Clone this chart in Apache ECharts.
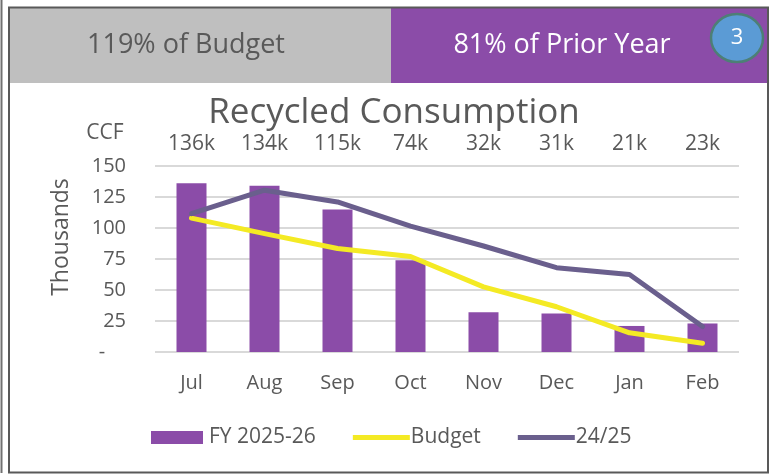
<!DOCTYPE html>
<html>
<head>
<meta charset="utf-8">
<script src="https://cdn.jsdelivr.net/npm/echarts@6/dist/echarts.min.js"></script>
<style>
  html, body { margin: 0; padding: 0; background: #fff; }
  #chart { width: 776px; height: 475px; }
</style>
</head>
<body>
<div id="chart"></div>
<script>
// chart data
const months = ["Jul", "Aug", "Sep", "Oct", "Nov", "Dec", "Jan", "Feb"];
const fy2526 = [136, 134, 115, 74, 32, 31, 21, 23];
const budget = [108, 95.5, 83.5, 77, 52.5, 36.5, 15.5, 7];
const prior = [111.5, 130.5, 121, 101.5, 85.5, 68, 62.5, 20.5];
const yTicks = [0, 25, 50, 75, 100, 125, 150];

const budgetText = "119% of Budget";
const priorText = "81% of Prior Year";

const font = "Open Sans";
const textColor = "#595959";
// legend icons, anchored by zero-length moves so they keep their size in the box
const barIcon = "path://M0,0L52,0L52,13L0,13ZM57,0L57,0";
const lineIcon = "path://M0,0L0,0M0,4L57,4L57,9L0,9ZM0,13L0,13";

const chart = echarts.init(document.getElementById("chart"), null, { renderer: "canvas" });

chart.setOption({
  backgroundColor: "#fff",
  animation: false,
  textStyle: { fontFamily: font },
  title: {
    text: "Recycled Consumption",
    left: 389,
    top: 91,
    textAlign: "center",
    textStyle: { fontFamily: font, fontSize: 35, fontWeight: "normal", color: textColor }
  },
  graphic: [
    // header band
    { type: "rect", shape: { x: 9, y: 8, width: 382, height: 75 }, style: { fill: "#bfbfbf" }, silent: true },
    { type: "rect", shape: { x: 391, y: 8, width: 377, height: 75 }, style: { fill: "#8b4ca8" }, silent: true },
    {
      type: "text", x: 186, y: 45,
      style: { text: budgetText, textAlign: "center", textVerticalAlign: "middle",
        font: "27px '" + font + "'", fill: textColor }
    },
    {
      type: "text", x: 562, y: 45,
      style: { text: priorText, textAlign: "center", textVerticalAlign: "middle",
        font: "27px '" + font + "'", fill: "#fff" }
    },
    {
      type: "ellipse", shape: { cx: 737, cy: 38, rx: 26, ry: 24 },
      style: { fill: "#5b9bd5", stroke: "#4d7f76", lineWidth: 2.5 }, silent: true
    },
    {
      type: "text", x: 737, y: 38,
      style: { text: "3", textAlign: "center", textVerticalAlign: "middle",
        font: "22px '" + font + "'", fill: "#fff" }
    },
    // outer frame
    { type: "rect", shape: { x: 9, y: 7.5, width: 759, height: 465 },
      style: { fill: null, stroke: "#595959", lineWidth: 2 }, silent: true, z: 100 },
    { type: "line", shape: { x1: 1.5, y1: 0, x2: 1.5, y2: 473 },
      style: { stroke: "#707070", lineWidth: 2 }, silent: true },
    // unit label and axis name
    {
      type: "text", x: 105, y: 133,
      style: { text: "CCF", textAlign: "center", textVerticalAlign: "middle",
        font: "21px '" + font + "'", fill: textColor }
    },
    {
      type: "text", x: 61, y: 237, rotation: Math.PI / 2,
      style: { text: "Thousands", textAlign: "center", textVerticalAlign: "middle",
        font: "23px '" + font + "'", fill: textColor }
    }
  ],
  grid: { left: 155, right: 37, top: 166, bottom: 123 },
  legend: {
    left: 151,
    top: 427,
    padding: 0,
    itemWidth: 57,
    itemHeight: 13,
    itemGap: 37,
    textStyle: { fontSize: 21, color: textColor, fontFamily: font, padding: [0, 0, 0, -4] },
    data: [
      { name: "FY 2025-26", icon: barIcon },
      { name: "Budget", icon: lineIcon },
      { name: "24/25", icon: lineIcon }
    ]
  },
  xAxis: [
    {
      type: "category",
      data: months,
      axisLine: { show: false },
      axisTick: { show: false },
      axisLabel: { color: textColor, fontSize: 20, margin: 21, fontFamily: font }
    },
    {
      type: "category",
      position: "top",
      data: months,
      axisLine: { show: false },
      axisTick: { show: false },
      axisLabel: {
        color: textColor, fontSize: 21, margin: 11, fontFamily: font,
        formatter: (v, i) => fy2526[i] + "k"
      }
    }
  ],
  yAxis: {
    type: "value",
    min: yTicks[0],
    max: yTicks[yTicks.length - 1],
    interval: 25,
    axisLine: { show: false },
    axisTick: { show: false },
    axisLabel: {
      color: textColor, fontSize: 20, margin: 29, fontFamily: font,
      formatter: v => (v === 0 ? "-    " : String(v))
    },
    splitLine: { lineStyle: { color: "#d9d9d9", width: 2 } }
  },
  series: [
    {
      name: "FY 2025-26",
      type: "bar",
      data: fy2526,
      barWidth: 30,
      itemStyle: { color: "#8b4ca8" }
    },
    {
      name: "Budget",
      type: "line",
      data: budget,
      symbol: "none",
      lineStyle: { color: "#f4ea24", width: 5, cap: "round", join: "round" },
      itemStyle: { color: "#f4ea24" }
    },
    {
      name: "24/25",
      type: "line",
      data: prior,
      symbol: "none",
      lineStyle: { color: "#6a5f8d", width: 5, cap: "round", join: "round" },
      itemStyle: { color: "#6a5f8d" }
    }
  ]
});
</script>
</body>
</html>
